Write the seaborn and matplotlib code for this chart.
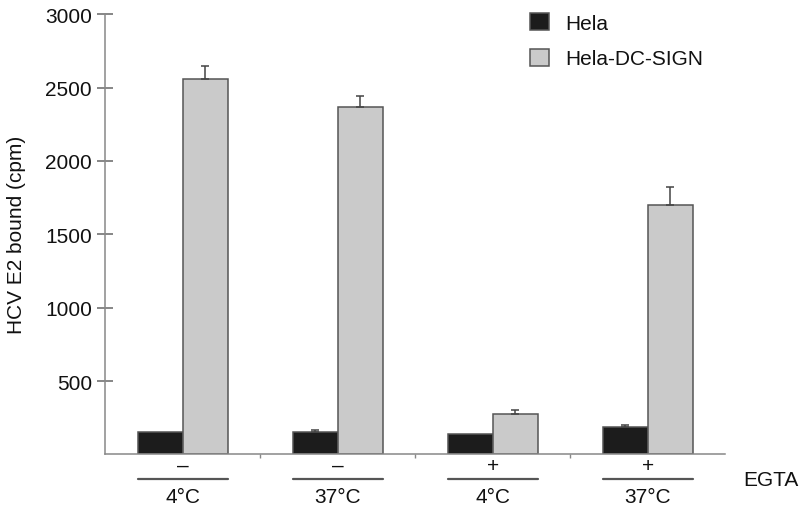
import pandas as pd
import numpy as np
import matplotlib
matplotlib.use('Agg')
import matplotlib.pyplot as plt
import matplotlib.transforms as mtransforms
import seaborn as sns

# data
conditions = ['-\n4°C', '-\n37°C', '+\n4°C', '+\n37°C']
egta = ['–', '–', '+', '+']
temps = ['4°C', '37°C', '4°C', '37°C']
cells = ['Hela', 'Hela-DC-SIGN']
hela = [150, 150, 140, 185]
hela_err = [0, 15, 0, 12]
dcsign = [2560, 2365, 275, 1700]
dcsign_err = [85, 75, 25, 125]

def main():
    df = pd.DataFrame({
        'cond': conditions * 2,
        'cell': [cells[0]] * 4 + [cells[1]] * 4,
        'value': hela + dcsign,
        'err': hela_err + dcsign_err,
    })

    sns.set_style('white')
    plt.rcParams['font.family'] = ['Liberation Sans', 'DejaVu Sans']
    plt.rcParams['text.color'] = '#111111'
    plt.rcParams['axes.labelcolor'] = '#111111'
    plt.rcParams['ytick.labelcolor'] = '#111111'
    fs = 15

    fig = plt.figure(figsize=(8.03, 5.06), dpi=100)
    ax = fig.add_axes([0.131, 0.1, 0.772, 0.87])

    sns.barplot(data=df, x='cond', y='value', hue='cell', order=conditions,
                hue_order=cells, palette=['#1c1c1c', '#cacaca'], width=0.58,
                edgecolor='#555555', linewidth=1.1, errorbar=None, ax=ax,
                legend=True)

    # error bars (upper only) on top of each bar
    for i, cell in enumerate(cells):
        sub = df[df['cell'] == cell]
        bars = ax.containers[i]
        xs = [b.get_x() + b.get_width() / 2 for b in bars]
        errs = sub['err'].values
        ys = sub['value'].values
        mask = errs > 0
        ax.errorbar(np.array(xs)[mask], ys[mask],
                    yerr=[np.zeros(mask.sum()), errs[mask]],
                    fmt='none', ecolor='#444444', elinewidth=1.1, capsize=3, capthick=1.1)

    ax.set_ylim(0, 3000)
    ax.set_xlim(-0.5, 3.5)
    ax.set_yticks([500, 1000, 1500, 2000, 2500, 3000])
    ax.set_xticks([])
    ax.set_xticks([0.5, 1.5, 2.5], minor=True)
    ax.tick_params(axis='y', which='major', direction='inout', length=11, width=1.1,
                   color='#666666', labelsize=fs, pad=4, left=True, labelcolor='#111111')
    ax.tick_params(axis='x', which='minor', direction='out', length=3, width=1,
                   color='#888888', bottom=True)
    ax.set_xlabel('')
    ax.set_ylabel('HCV E2 bound (cpm)', fontsize=fs, labelpad=14, color='#111111')
    for side in ['top', 'right']:
        ax.spines[side].set_visible(False)
    for side in ['left', 'bottom']:
        ax.spines[side].set_color('#888888')
        ax.spines[side].set_linewidth(1.1)

    # condition labels below the axis
    trans = mtransforms.blended_transform_factory(ax.transData, ax.transAxes)
    for i in range(len(conditions)):
        ax.text(i, -0.025, egta[i], transform=trans, ha='center', va='center', fontsize=fs)
        ax.plot([i - 0.29, i + 0.29], [-0.057, -0.057], transform=trans,
                color='#555555', lw=1.6, clip_on=False)
        ax.text(i, -0.095, temps[i], transform=trans, ha='center', va='center', fontsize=fs)
    ax.text(1.03, -0.057, 'EGTA', transform=ax.transAxes, ha='left', va='center', fontsize=fs)

    leg = ax.legend(frameon=False, loc='upper left', bbox_to_anchor=(0.655, 1.045), fontsize=fs,
                    handlelength=0.9, handleheight=0.9, labelspacing=0.75, handletextpad=0.8)
    for t in leg.get_texts():
        t.set_color('#111111')

    fig.savefig('out.png', dpi=100)

if __name__ == '__main__':
    main()
